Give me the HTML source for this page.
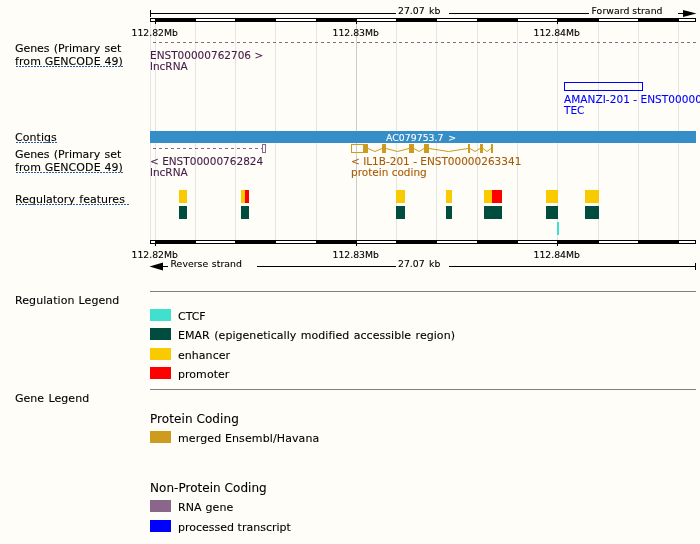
<!DOCTYPE html>
<html><head><meta charset="utf-8"><title>Region in detail</title>
<style>
html,body{margin:0;padding:0;background:#fffdf7;}
svg{display:block;font-family:"DejaVu Sans","Liberation Sans",sans-serif;}
text{white-space:pre;stroke-width:0.1px;}
</style></head><body>
<svg width="700" height="544" viewBox="0 0 700 544">
<rect x="0" y="0" width="700" height="544" fill="#fffdf7"/>
<g shape-rendering="crispEdges">
<rect x="150" y="22" width="1" height="218" fill="#e5e5e5"/>
<rect x="155" y="22" width="1" height="218" fill="#e5e5e5"/>
<rect x="195" y="22" width="1" height="218" fill="#e5e5e5"/>
<rect x="235" y="22" width="1" height="218" fill="#e5e5e5"/>
<rect x="275" y="22" width="1" height="218" fill="#e5e5e5"/>
<rect x="316" y="22" width="1" height="218" fill="#e5e5e5"/>
<rect x="356" y="22" width="1" height="218" fill="#cccccc"/>
<rect x="396" y="22" width="1" height="218" fill="#e5e5e5"/>
<rect x="436" y="22" width="1" height="218" fill="#e5e5e5"/>
<rect x="477" y="22" width="1" height="218" fill="#e5e5e5"/>
<rect x="517" y="22" width="1" height="218" fill="#e5e5e5"/>
<rect x="557" y="22" width="1" height="218" fill="#e5e5e5"/>
<rect x="598" y="22" width="1" height="218" fill="#e5e5e5"/>
<rect x="638" y="22" width="1" height="218" fill="#e5e5e5"/>
<rect x="678" y="22" width="1" height="218" fill="#e5e5e5"/>
<rect x="150" y="18" width="546" height="4" fill="#000"/>
<rect x="151" y="19" width="4" height="2" fill="#fff"/>
<rect x="196" y="19" width="39" height="2" fill="#fff"/>
<rect x="276" y="19" width="40" height="2" fill="#fff"/>
<rect x="357" y="19" width="39" height="2" fill="#fff"/>
<rect x="437" y="19" width="40" height="2" fill="#fff"/>
<rect x="518" y="19" width="39" height="2" fill="#fff"/>
<rect x="599" y="19" width="39" height="2" fill="#fff"/>
<rect x="679" y="19" width="16" height="2" fill="#fff"/>
<rect x="155" y="18" width="1" height="6" fill="#000"/>
<rect x="356" y="18" width="1" height="6" fill="#000"/>
<rect x="557" y="18" width="1" height="6" fill="#000"/>
<rect x="150" y="240" width="546" height="4" fill="#000"/>
<rect x="151" y="241" width="4" height="2" fill="#fff"/>
<rect x="196" y="241" width="39" height="2" fill="#fff"/>
<rect x="276" y="241" width="40" height="2" fill="#fff"/>
<rect x="357" y="241" width="39" height="2" fill="#fff"/>
<rect x="437" y="241" width="40" height="2" fill="#fff"/>
<rect x="518" y="241" width="39" height="2" fill="#fff"/>
<rect x="599" y="241" width="39" height="2" fill="#fff"/>
<rect x="679" y="241" width="16" height="2" fill="#fff"/>
<rect x="155" y="240" width="1" height="6" fill="#000"/>
<rect x="356" y="240" width="1" height="6" fill="#000"/>
<rect x="557" y="240" width="1" height="6" fill="#000"/>
<rect x="150" y="10" width="1" height="7" fill="#000"/>
<rect x="150" y="13" width="246" height="1" fill="#000"/>
<rect x="449" y="13" width="140" height="1" fill="#000"/>
<rect x="678" y="13" width="6" height="1" fill="#000"/>
<polygon points="683,10 683,17 696.5,13.5" fill="#000" shape-rendering="geometricPrecision"/>
<rect x="695" y="263" width="1" height="7" fill="#000"/>
<rect x="161" y="266" width="7" height="1" fill="#000"/>
<rect x="257" y="266" width="139" height="1" fill="#000"/>
<rect x="449" y="266" width="247" height="1" fill="#000"/>
<polygon points="163,262.6 163,270.4 149.5,266.5" fill="#000" shape-rendering="geometricPrecision"/>
<line x1="153" y1="42.5" x2="696" y2="42.5" stroke="#8b668b" stroke-width="1" stroke-dasharray="3 3"/>
<rect x="564.5" y="82.5" width="78" height="8" fill="none" stroke="#0000ff" stroke-width="1"/>
<rect x="150" y="131" width="546" height="12" fill="#368ec9"/>
<line x1="153" y1="148.5" x2="262" y2="148.5" stroke="#8b668b" stroke-width="1" stroke-dasharray="3 3"/>
<rect x="262.5" y="144.5" width="3" height="8" fill="none" stroke="#8b668b" stroke-width="1"/>
<rect x="351.5" y="144.5" width="12" height="8" fill="none" stroke="#cd9b1d" stroke-width="1"/>
<rect x="363" y="144" width="5" height="9" fill="#cd9b1d"/>
<rect x="382" y="144" width="4" height="9" fill="#cd9b1d"/>
<rect x="409" y="144" width="5" height="9" fill="#cd9b1d"/>
<rect x="424" y="144" width="5" height="9" fill="#cd9b1d"/>
<rect x="468" y="144" width="2" height="9" fill="#cd9b1d"/>
<rect x="480" y="144" width="3" height="9" fill="#cd9b1d"/>
<rect x="491" y="144" width="2" height="9" fill="#cd9b1d"/>
</g>
<g fill="none" stroke="#cd9b1d" stroke-width="1">
<polyline points="368,148.5 375.0,151.5 382,148.5"/>
<polyline points="386,148.5 397.5,151.5 409,148.5"/>
<polyline points="414,148.5 419.0,151.5 424,148.5"/>
<polyline points="429,148.5 448.5,151.5 468,148.5"/>
<polyline points="470,148.5 475.0,151.5 480,148.5"/>
<polyline points="483,148.5 487.0,151.5 491,148.5"/>
</g>
<g shape-rendering="crispEdges">
<rect x="179" y="190" width="8" height="13" fill="#faca00"/>
<rect x="179" y="206" width="8" height="13" fill="#004d40"/>
<rect x="241" y="190" width="4" height="13" fill="#faca00"/>
<rect x="245" y="190" width="4" height="13" fill="#ff0000"/>
<rect x="241" y="206" width="8" height="13" fill="#004d40"/>
<rect x="396" y="190" width="9" height="13" fill="#faca00"/>
<rect x="396" y="206" width="9" height="13" fill="#004d40"/>
<rect x="446" y="190" width="6" height="13" fill="#faca00"/>
<rect x="446" y="206" width="6" height="13" fill="#004d40"/>
<rect x="484" y="190" width="8" height="13" fill="#faca00"/>
<rect x="492" y="190" width="10" height="13" fill="#ff0000"/>
<rect x="484" y="206" width="18" height="13" fill="#004d40"/>
<rect x="546" y="190" width="12" height="13" fill="#faca00"/>
<rect x="546" y="206" width="12" height="13" fill="#004d40"/>
<rect x="585" y="190" width="14" height="13" fill="#faca00"/>
<rect x="585" y="206" width="14" height="13" fill="#004d40"/>
<rect x="557" y="222" width="2" height="13" fill="#40e0d0"/>
<rect x="150" y="291" width="546" height="1" fill="#808080"/>
<rect x="150" y="389" width="546" height="1" fill="#808080"/>
<rect x="150" y="309" width="21" height="12" fill="#40e0d0"/>
<rect x="150" y="328" width="21" height="12" fill="#004d40"/>
<rect x="150" y="348" width="21" height="12" fill="#faca00"/>
<rect x="150" y="367" width="21" height="12" fill="#ff0000"/>
<rect x="150" y="382" width="11" height="6" fill="#fff"/>
<rect x="150" y="431" width="21" height="12" fill="#cd9b1d"/>
<rect x="150" y="500" width="21" height="12" fill="#8b668b"/>
<rect x="150" y="520" width="21" height="12" fill="#0000ff"/>
<rect x="150" y="535" width="11" height="6" fill="#fff"/>
</g>
<text x="131.5" y="36" font-size="9.3" fill="#000" stroke="#000">112.82Mb</text>
<text x="131.5" y="258" font-size="9.3" fill="#000" stroke="#000">112.82Mb</text>
<text x="332.5" y="36" font-size="9.3" fill="#000" stroke="#000">112.83Mb</text>
<text x="332.5" y="258" font-size="9.3" fill="#000" stroke="#000">112.83Mb</text>
<text x="533.5" y="36" font-size="9.3" fill="#000" stroke="#000">112.84Mb</text>
<text x="533.5" y="258" font-size="9.3" fill="#000" stroke="#000">112.84Mb</text>
<text x="398" y="14" font-size="9.3" fill="#000" stroke="#000" style="word-spacing:1.5px;">27.07 kb</text>
<text x="398" y="267" font-size="9.3" fill="#000" stroke="#000" style="word-spacing:1.5px;">27.07 kb</text>
<text x="591.5" y="14" font-size="9.3" fill="#000" stroke="#000" style="word-spacing:-0.3px;letter-spacing:0.09px;">Forward strand</text>
<text x="170.5" y="267" font-size="9.3" fill="#000" stroke="#000" style="word-spacing:0.5px;letter-spacing:0.06px;">Reverse strand</text>
<text x="386" y="141" font-size="9.3" fill="#fff" stroke="#fff" style="word-spacing:1.7px;letter-spacing:0.05px;">AC079753.7 &gt;</text>
<text x="150" y="59" font-size="10.5" fill="#441b49" stroke="#441b49">ENST00000762706 &gt;</text>
<text x="150" y="70" font-size="10.5" fill="#441b49" stroke="#441b49">lncRNA</text>
<text x="150" y="165" font-size="10.5" fill="#441b49" stroke="#441b49">&lt; ENST00000762824</text>
<text x="150" y="176" font-size="10.5" fill="#441b49" stroke="#441b49">lncRNA</text>
<text x="564" y="103" font-size="10.5" fill="#0000ff" stroke="#0000ff" style="letter-spacing:0.05px;">AMANZI-201 - ENST00000</text>
<text x="564" y="114" font-size="10.5" fill="#0000ff" stroke="#0000ff">TEC</text>
<text x="351" y="165" font-size="10.5" fill="#a65c08" stroke="#a65c08">&lt; IL1B-201 - ENST00000263341</text>
<text x="351" y="176" font-size="10.5" fill="#a65c08" stroke="#a65c08">protein coding</text>
<text x="15" y="52" font-size="11" fill="#000" stroke="#000" style="word-spacing:0.9px;letter-spacing:-0.053px;">Genes (Primary set</text>
<text x="15" y="65" font-size="11" fill="#000" stroke="#000" style="word-spacing:0.1px;letter-spacing:0.087px;">from GENCODE 49)</text>
<text x="15" y="141" font-size="11" fill="#000" stroke="#000" style="word-spacing:0.9px;letter-spacing:0.05px;">Contigs</text>
<text x="15" y="158" font-size="11" fill="#000" stroke="#000" style="word-spacing:0.9px;letter-spacing:-0.053px;">Genes (Primary set</text>
<text x="15" y="171" font-size="11" fill="#000" stroke="#000" style="word-spacing:0.1px;letter-spacing:0.087px;">from GENCODE 49)</text>
<text x="15" y="203" font-size="11" fill="#000" stroke="#000" style="word-spacing:0.9px;letter-spacing:0.017px;">Regulatory features</text>
<text x="15" y="304" font-size="11" fill="#000" stroke="#000" style="word-spacing:0.4px;letter-spacing:0.081px;">Regulation Legend</text>
<text x="15" y="402" font-size="11" fill="#000" stroke="#000" style="word-spacing:0.9px;letter-spacing:0.03px;">Gene Legend</text>
<text x="178" y="320" font-size="11" fill="#000" stroke="#000" style="word-spacing:0.9px;letter-spacing:-0.033px;">CTCF</text>
<text x="178" y="339" font-size="11" fill="#000" stroke="#000" style="word-spacing:0.9px;letter-spacing:0.047px;">EMAR (epigenetically modified accessible region)</text>
<text x="178" y="359" font-size="11" fill="#000" stroke="#000" style="word-spacing:0.9px;letter-spacing:0.043px;">enhancer</text>
<text x="178" y="378" font-size="11" fill="#000" stroke="#000" style="word-spacing:0.9px;letter-spacing:0.043px;">promoter</text>
<text x="178" y="442" font-size="11" fill="#000" stroke="#000" style="word-spacing:0.1px;letter-spacing:0.115px;">merged Ensembl/Havana</text>
<text x="178" y="511" font-size="11" fill="#000" stroke="#000" style="word-spacing:0.4px;letter-spacing:0.057px;">RNA gene</text>
<text x="178" y="531" font-size="11" fill="#000" stroke="#000" style="word-spacing:0.1px;">processed transcript</text>
<text x="150" y="423" font-size="12" fill="#000" stroke="#000" style="letter-spacing:0.077px;">Protein Coding</text>
<text x="150" y="492" font-size="12" fill="#000" stroke="#000" style="letter-spacing:0.041px;">Non-Protein Coding</text>
<g shape-rendering="crispEdges" stroke="#2a5d9f" stroke-width="1" stroke-dasharray="2 1">
<line x1="16" y1="66.5" x2="124" y2="66.5"/>
<line x1="16" y1="142.5" x2="58" y2="142.5"/>
<line x1="16" y1="172.5" x2="124" y2="172.5"/>
<line x1="16" y1="204.5" x2="130" y2="204.5"/>
</g>
</svg>
</body></html>
